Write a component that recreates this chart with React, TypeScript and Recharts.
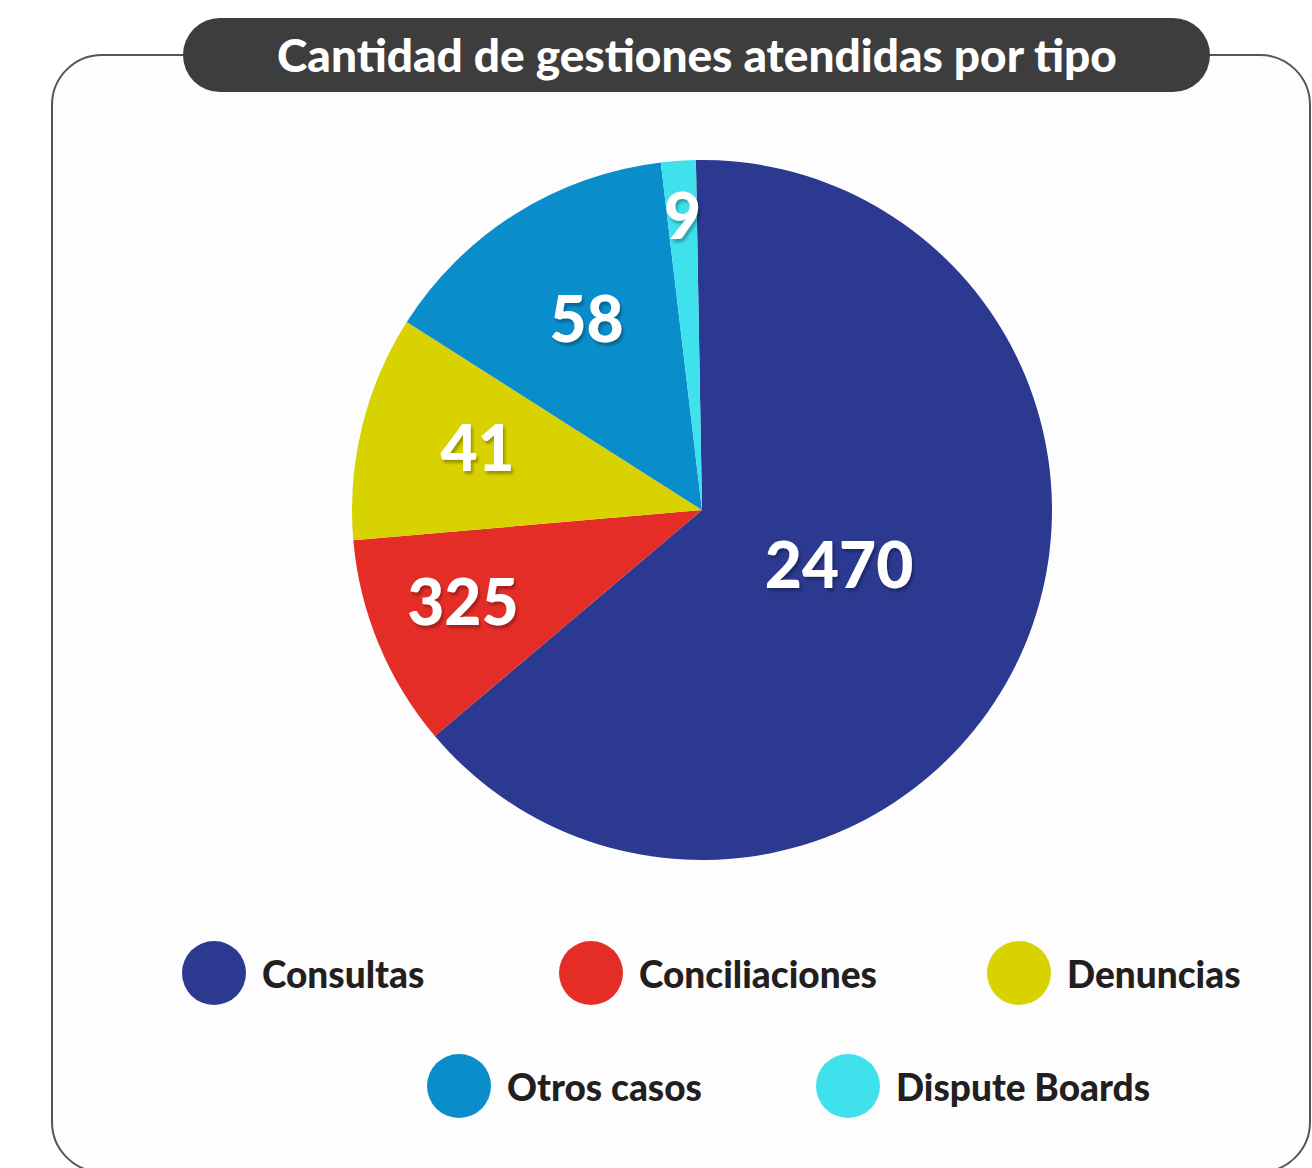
import React from "react";
import { PieChart, Pie, Cell, Legend } from "recharts";

const categories = ["Consultas", "Conciliaciones", "Denuncias", "Otros casos", "Dispute Boards"];
// Counts printed on the slices
const counts = [2470, 325, 41, 58, 9];
// Share of the circle each slice takes in the picture (percent of 360°)
const shares = [64.1, 9.8, 10.4, 14.1, 1.6];
const colors = ["#2B3990", "#E52D27", "#D8D200", "#0A8ECB", "#3EE1EC"];
const title = "Cantidad de gestiones atendidas por tipo";

const data = categories.map((name, i) => ({ name, share: shares[i], count: counts[i] }));

const W = 1312;
const H = 1168;
const FONT = "Lato, 'Open Sans', sans-serif";
const RAD = Math.PI / 180;
const labelRadius = [0.43, 0.74, 0.66, 0.62, 0.82];

const renderLabel = (props: any) => {
  const { cx, cy, midAngle, outerRadius, index } = props;
  const r = outerRadius * labelRadius[index];
  const x = cx + r * Math.cos(-midAngle * RAD);
  const y = cy + r * Math.sin(-midAngle * RAD) - 9;
  return (
    <text
      key={"lbl" + index}
      x={x}
      y={y}
      textAnchor="middle"
      dominantBaseline="central"
      fontFamily={FONT}
      fontWeight={900}
      fontSize={64}
      fill="#ffffff"
      filter="url(#numShadow)"
    >
      {String(counts[index])}
    </text>
  );
};

const legendSlots = [
  { x: 182, y: 0 },
  { x: 559, y: 0 },
  { x: 987, y: 0 },
  { x: 427, y: 113 },
  { x: 816, y: 113 },
];

const renderLegend = () => (
  <div style={{ position: "relative", width: W, height: 200 }}>
    {categories.map((name, i) => (
      <div
        key={name}
        style={{
          position: "absolute",
          left: legendSlots[i].x,
          top: legendSlots[i].y,
          display: "flex",
          alignItems: "center",
          height: 64,
        }}
      >
        <div style={{ width: 64, height: 64, borderRadius: "50%", background: colors[i] }} />
        <span
          style={{
            marginLeft: 16,
            fontFamily: FONT,
            fontWeight: 900,
            fontSize: 37,
            color: "#231F20",
            whiteSpace: "nowrap",
          }}
        >
          {name}
        </span>
      </div>
    ))}
  </div>
);

export default function App() {
  return (
    <div style={{ position: "absolute", left: 0, top: 0, width: W, height: H, background: "#ffffff", overflow: "hidden" }}>
      <svg width={W} height={H} style={{ position: "absolute", left: 0, top: 0 }}>
        <defs>
          <filter id="numShadow" x="-20%" y="-20%" width="140%" height="150%">
            <feDropShadow dx={2} dy={3} stdDeviation={1.5} floodColor="#000000" floodOpacity={0.3} />
          </filter>
        </defs>
        <rect x={52} y={55} width={1258} height={1117} rx={50} ry={50} fill="#FDFDFD" stroke="#555555" strokeWidth={2} />
        <rect x={183} y={18} width={1027} height={74} rx={37} ry={37} fill="#3D3D3D" />
        <text x={697} y={54} textAnchor="middle" dominantBaseline="central" fontFamily={FONT} fontWeight={900} fontSize={46} fill="#ffffff">
          {title}
        </text>
      </svg>
      <div style={{ position: "absolute", left: 0, top: 0 }}>
        <PieChart width={W} height={H} margin={{ top: 0, right: 0, bottom: 0, left: 0 }}>
          <Pie
            data={data}
            dataKey="share"
            nameKey="name"
            cx={702}
            cy={510}
            outerRadius={350}
            startAngle={91}
            endAngle={-269}
            stroke="none"
            isAnimationActive={false}
            labelLine={false}
            label={renderLabel}
          >
            {data.map((d, i) => (
              <Cell key={d.name} fill={colors[i]} />
            ))}
          </Pie>
          <Legend
            content={renderLegend}
            wrapperStyle={{ position: "absolute", left: 0, top: 941, width: W, height: 200 }}
          />
        </PieChart>
      </div>
    </div>
  );
}
